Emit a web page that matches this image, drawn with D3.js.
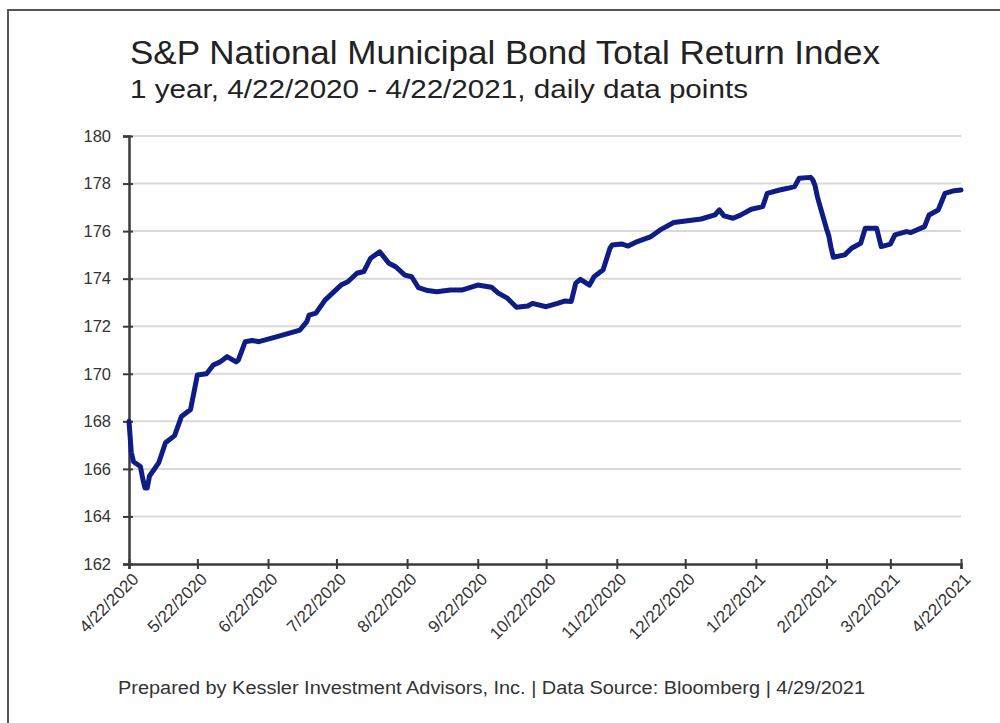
<!DOCTYPE html>
<html><head><meta charset="utf-8">
<script src="https://cdn.jsdelivr.net/npm/d3@7"></script>
<style>body{margin:0;background:#fff}svg{display:block}</style>
</head><body>
<svg id="c" width="1000" height="723"></svg>
<script>
const titleText = "S&P National Municipal Bond Total Return Index";
const subtitleText = "1 year, 4/22/2020 - 4/22/2021, daily data points";
const footerText = "Prepared by Kessler Investment Advisors, Inc. | Data Source: Bloomberg | 4/29/2021";

const dates = ["2020-04-22","2020-04-23","2020-04-24","2020-04-27","2020-04-28","2020-04-29","2020-04-30","2020-05-01","2020-05-05","2020-05-08",
"2020-05-12","2020-05-15","2020-05-19","2020-05-22","2020-05-26","2020-05-29","2020-06-01","2020-06-04","2020-06-08","2020-06-09",
"2020-06-12","2020-06-15","2020-06-18","2020-06-26","2020-07-06","2020-07-09","2020-07-10","2020-07-13","2020-07-17","2020-07-24",
"2020-07-27","2020-07-31","2020-08-03","2020-08-06","2020-08-10","2020-08-14","2020-08-17","2020-08-21","2020-08-24","2020-08-27",
"2020-08-31","2020-09-04","2020-09-10","2020-09-15","2020-09-22","2020-09-28","2020-10-01","2020-10-05","2020-10-09","2020-10-14",
"2020-10-16","2020-10-22","2020-10-27","2020-10-30","2020-11-02","2020-11-04","2020-11-06","2020-11-10","2020-11-12","2020-11-16",
"2020-11-19","2020-11-20","2020-11-24","2020-11-27","2020-12-01","2020-12-07","2020-12-11","2020-12-17","2020-12-23","2020-12-29",
"2021-01-04","2021-01-06","2021-01-08","2021-01-12","2021-01-15","2021-01-20","2021-01-25","2021-01-27","2021-02-01","2021-02-05",
"2021-02-08","2021-02-10","2021-02-15","2021-02-16","2021-02-17","2021-02-18","2021-02-19","2021-02-22","2021-02-23","2021-02-24",
"2021-02-25","2021-03-02","2021-03-05","2021-03-09","2021-03-11","2021-03-16","2021-03-18","2021-03-22","2021-03-24","2021-03-29",
"2021-03-31","2021-04-06","2021-04-08","2021-04-12","2021-04-15","2021-04-19","2021-04-22"];

const values = [168.0,166.7,166.3,166.1,165.6,165.2,165.2,165.7,166.25,167.1,
167.4,168.2,168.5,169.95,170.0,170.37,170.5,170.72,170.5,170.58,
171.35,171.4,171.35,171.56,171.84,172.19,172.47,172.55,173.1,173.73,
173.87,174.23,174.3,174.86,175.13,174.65,174.5,174.15,174.08,173.62,
173.5,173.45,173.52,173.52,173.73,173.64,173.39,173.18,172.8,172.85,
172.96,172.82,172.96,173.06,173.04,173.81,173.97,173.73,174.08,174.37,
175.28,175.42,175.46,175.37,175.56,175.77,176.05,176.36,176.44,176.51,
176.68,176.89,176.64,176.54,176.66,176.92,177.03,177.59,177.72,177.8,
177.87,178.22,178.26,178.15,177.9,177.45,177.1,176.1,175.8,175.3,
174.9,175.0,175.28,175.49,176.12,176.12,175.35,175.45,175.84,175.98,
175.94,176.19,176.68,176.89,177.59,177.7,177.73];

const xTickLabels = ["4/22/2020","5/22/2020","6/22/2020","7/22/2020","8/22/2020","9/22/2020","10/22/2020","11/22/2020","12/22/2020","1/22/2021","2/22/2021","3/22/2021","4/22/2021"];
const yTicks = [162,164,166,168,170,172,174,176,178,180];

const svg = d3.select("#c");
const W = 1000, H = 723;
const plot = {left:129, right:961, top:136, bottom:564};
const font = "'Liberation Sans', Arial, sans-serif";

svg.append("rect").attr("width",W).attr("height",H).attr("fill","#fff");
// outer frame
svg.append("rect").attr("x",8).attr("y",10).attr("width",1010).attr("height",730)
  .attr("fill","none").attr("stroke","#555").attr("stroke-width",2);

const parseISO = d3.timeParse("%Y-%m-%d");
const parseUS = d3.timeParse("%m/%d/%Y");
const data = dates.map((d,i)=>({date:parseISO(d), value:values[i]}));
const tickDates = xTickLabels.map(parseUS);

const x = d3.scaleTime().domain([tickDates[0], tickDates[tickDates.length-1]]).range([plot.left, plot.right]);
const y = d3.scaleLinear().domain([162,180]).range([plot.bottom, plot.top]);

// gridlines
svg.append("g").selectAll("line").data(yTicks.filter(t=>t>162)).join("line")
  .attr("x1",plot.left).attr("x2",plot.right)
  .attr("y1",d=>y(d)).attr("y2",d=>y(d))
  .attr("stroke","#d9d9d9").attr("stroke-width",2);

// y axis
const yAxis = d3.axisLeft(y).tickValues(yTicks).tickSize(6).tickPadding(12).tickFormat(d3.format("d"));
const gy = svg.append("g").attr("transform",`translate(${plot.left},0)`).call(yAxis);
gy.select(".domain").attr("stroke","#3a3a3a").attr("stroke-width",2.5);
gy.selectAll(".tick line").attr("stroke","#3a3a3a").attr("stroke-width",2).attr("x2",-6).attr("x1",4);
gy.selectAll(".tick text").attr("font-family",font).attr("font-size",16.5).attr("fill","#333").attr("x",-18);

// x axis
const xAxis = d3.axisBottom(x).tickValues(tickDates).tickSize(5).tickFormat((d,i)=>xTickLabels[i]);
const gx = svg.append("g").attr("transform",`translate(0,${plot.bottom})`).call(xAxis);
gx.select(".domain").attr("stroke","#3a3a3a").attr("stroke-width",2.5);
gx.selectAll(".tick line").attr("stroke","#3a3a3a").attr("stroke-width",2).attr("y1",-5).attr("y2",5);
gx.selectAll(".tick text").attr("font-family",font).attr("font-size",17).attr("fill","#333")
  .attr("text-anchor","end").attr("dy","0.35em")
  .attr("transform","translate(6,12) rotate(-45)").attr("x",0).attr("y",0);

// line
const line = d3.line().x(d=>x(d.date)).y(d=>y(d.value));
svg.append("path").datum(data).attr("d",line)
  .attr("fill","none").attr("stroke","#0e1c84").attr("stroke-width",5)
  .attr("stroke-linejoin","round").attr("stroke-linecap","round");

// titles
svg.append("text").attr("x",130).attr("y",64).text(titleText)
  .attr("font-family",font).attr("font-size",34).attr("fill","#222")
  .attr("textLength",750).attr("lengthAdjust","spacingAndGlyphs");
svg.append("text").attr("x",130).attr("y",98).text(subtitleText)
  .attr("font-family",font).attr("font-size",26).attr("fill","#222")
  .attr("textLength",618).attr("lengthAdjust","spacingAndGlyphs");
svg.append("text").attr("x",118).attr("y",694).text(footerText)
  .attr("font-family",font).attr("font-size",18).attr("fill","#333")
  .attr("textLength",747).attr("lengthAdjust","spacingAndGlyphs");
</script>
</body></html>
